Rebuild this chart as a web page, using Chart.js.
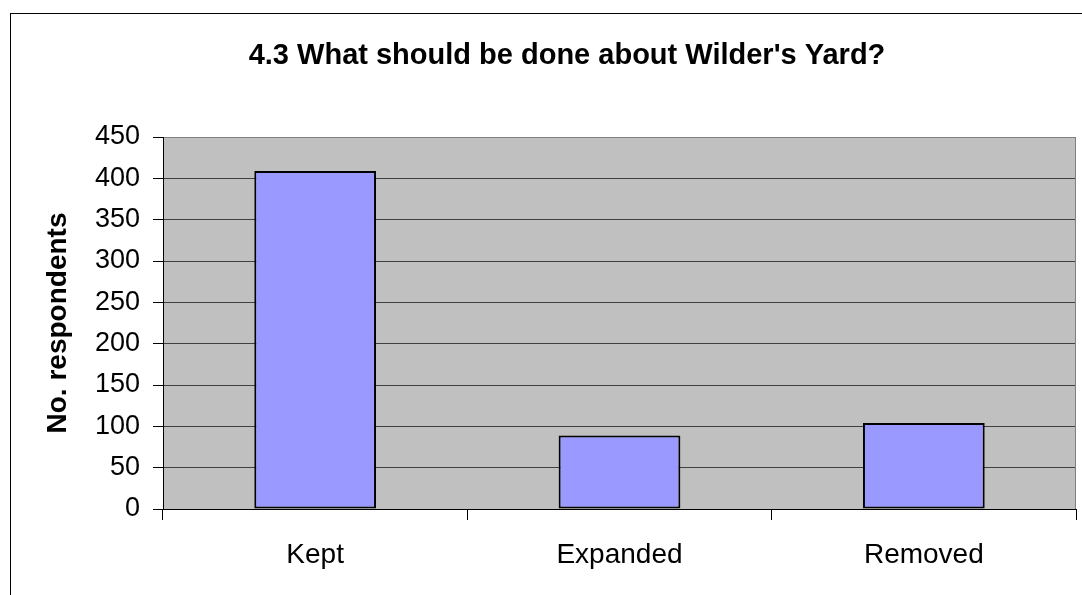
<!DOCTYPE html>
<html>
<head>
<meta charset="utf-8">
<script src="https://cdn.jsdelivr.net/npm/chart.js@4/dist/chart.umd.min.js"></script>
<style>
html,body{margin:0;padding:0;background:#fff;}
#wrap{width:1082px;height:595px;position:relative;}
</style>
</head>
<body>
<div id="wrap"><canvas id="c" width="1082" height="595"></canvas></div>
<script>
const chartTitle = "4.3 What should be done about Wilder's Yard?";
const yAxisTitle = "No. respondents";
const categories = ["Kept", "Expanded", "Removed"];
const respondents = [409, 89, 104];
const yTicks = [0, 50, 100, 150, 200, 250, 300, 350, 400, 450];

const FONT = "'Liberation Sans', Arial, sans-serif";

const decor = {
  id: 'decor',
  beforeDraw(chart) {
    const {ctx, chartArea: a} = chart;
    ctx.save();
    ctx.fillStyle = '#fff';
    ctx.fillRect(0, 0, chart.width, chart.height);
    ctx.strokeStyle = '#000';
    ctx.lineWidth = 1;
    ctx.strokeRect(10.5, 13.5, 3000, 3000);
    ctx.fillStyle = '#C0C0C0';
    ctx.fillRect(a.left, a.top, a.right - a.left, a.bottom - a.top);
    ctx.restore();
  },
  afterDraw(chart) {
    const {ctx, chartArea: a} = chart;
    ctx.save();
    ctx.strokeStyle = '#808080';
    ctx.lineWidth = 1;
    ctx.beginPath();
    ctx.moveTo(Math.round(a.right) - 0.5, a.top);
    ctx.lineTo(Math.round(a.right) - 0.5, a.bottom);
    ctx.stroke();
    ctx.fillStyle = '#000';
    ctx.textAlign = 'center';
    ctx.textBaseline = 'alphabetic';
    ctx.font = "bold 29px " + FONT;
    ctx.fillText(chartTitle, 567, 64);
    ctx.translate(66, (a.top + a.bottom) / 2);
    ctx.rotate(-Math.PI / 2);
    ctx.font = "bold 28px " + FONT;
    ctx.fillText(yAxisTitle, 0, 0);
    ctx.restore();
  }
};

new Chart(document.getElementById('c'), {
  type: 'bar',
  data: {
    labels: categories,
    datasets: [{
      data: respondents,
      backgroundColor: '#9999FF',
      borderColor: '#000000',
      borderWidth: 2,
      borderSkipped: false,
      barPercentage: 0.4,
      categoryPercentage: 1.0
    }]
  },
  options: {
    responsive: false,
    animation: false,
    devicePixelRatio: 1,
    layout: { padding: { top: 137, right: 6, left: 0, bottom: 0 } },
    plugins: { legend: { display: false }, title: { display: false }, tooltip: { enabled: false } },
    scales: {
      x: {
        offset: true,
        grid: { offset: true, drawOnChartArea: false, tickLength: 11, tickColor: '#000', lineWidth: 1 },
        border: { display: true, color: '#000', width: 1 },
        ticks: { font: { family: FONT, size: 28 }, color: '#000', padding: 18, maxRotation: 0 },
        afterFit(s) { s.height = 86; }
      },
      y: {
        min: 0, max: 450,
        afterBuildTicks(s) { s.ticks = yTicks.map(v => ({ value: v })); },
        grid: {
          color: (c) => (c.tick && c.tick.value === 450) ? '#808080' : '#404040',
          tickColor: '#000', tickLength: 10, lineWidth: 1
        },
        border: { display: true, color: '#000', width: 1 },
        ticks: { font: { family: FONT, size: 27 }, color: '#000', padding: 13 },
        afterFit(s) { s.width = 163; }
      }
    }
  },
  plugins: [decor]
});
</script>
</body>
</html>
